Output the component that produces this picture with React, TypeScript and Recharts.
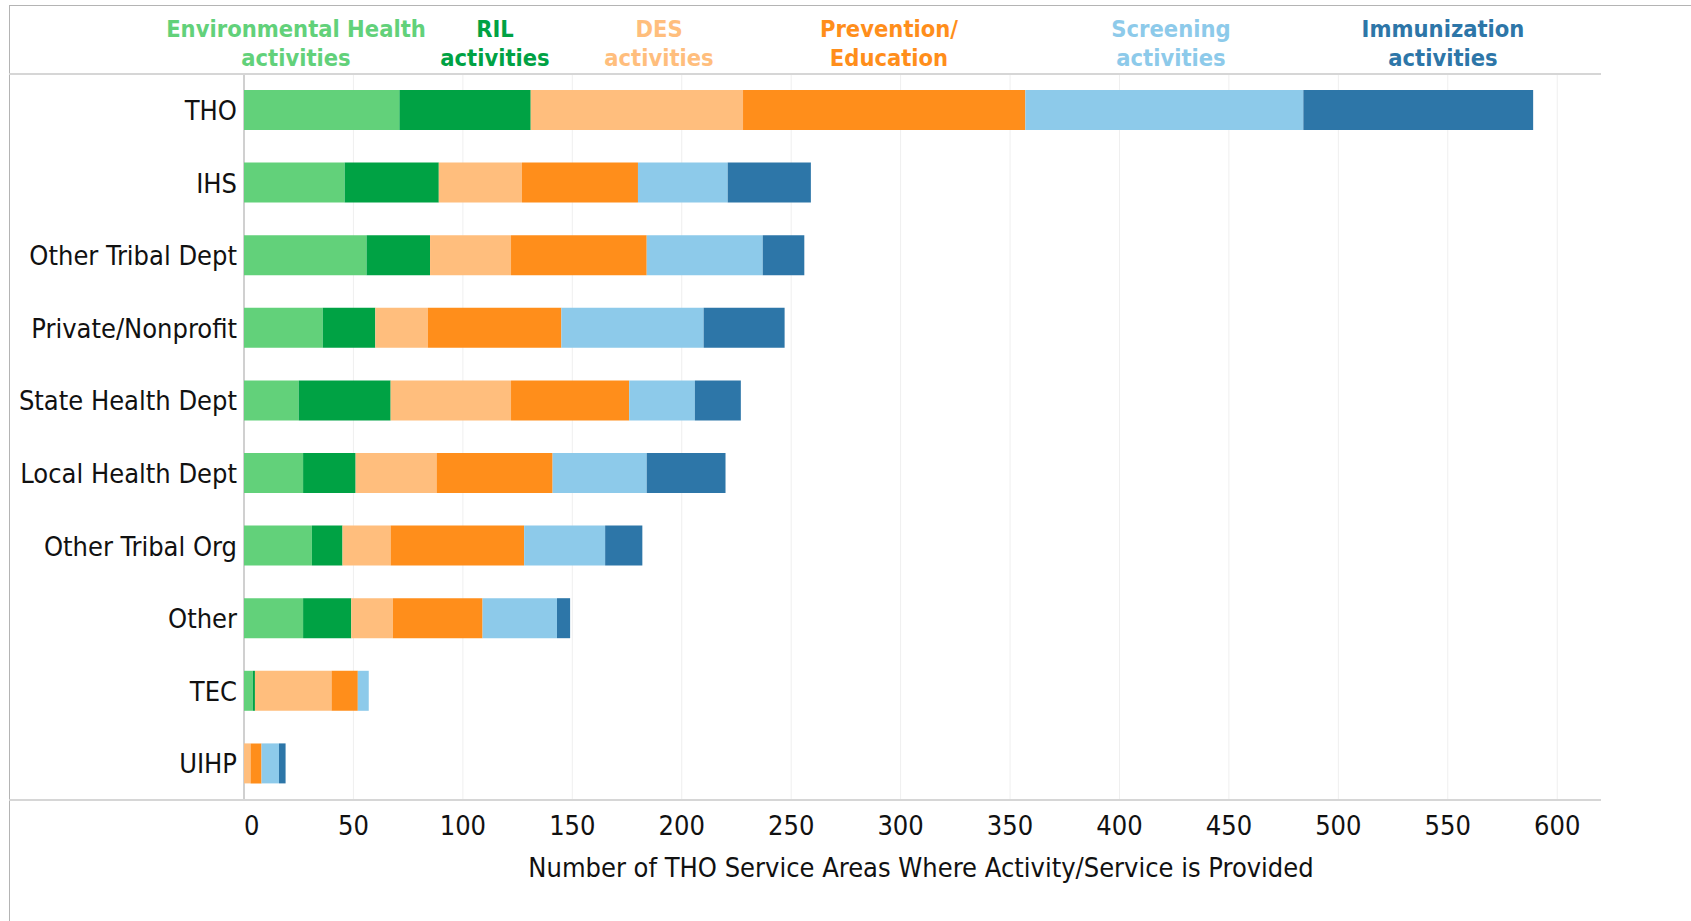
import React from "react";
import {
  BarChart,
  Bar,
  XAxis,
  YAxis,
  CartesianGrid,
} from "recharts";

const categories = [
  "THO",
  "IHS",
  "Other Tribal Dept",
  "Private/Nonprofit",
  "State Health Dept",
  "Local Health Dept",
  "Other Tribal Org",
  "Other",
  "TEC",
  "UIHP",
];

const envHealth = [71, 46, 56, 36, 25, 27, 31, 27, 4, 0];
const ril = [60, 43, 29, 24, 42, 24, 14, 22, 1, 0];
const des = [97, 38, 37, 24, 55, 37, 22, 19, 35, 3];
const prevention = [129, 53, 62, 61, 54, 53, 61, 41, 12, 5];
const screening = [127, 41, 53, 65, 30, 43, 37, 34, 5, 8];
const immunization = [105, 38, 19, 37, 21, 36, 17, 6, 0, 3];

const xTicks = [0, 50, 100, 150, 200, 250, 300, 350, 400, 450, 500, 550, 600];
const xMax = 620;

const series = [
  { key: "env", lines: ["Environmental Health", "activities"], color: "#62D17A", values: envHealth, cx: 296 },
  { key: "ril", lines: ["RIL", "activities"], color: "#00A244", values: ril, cx: 495 },
  { key: "des", lines: ["DES", "activities"], color: "#FFBE7D", values: des, cx: 659 },
  { key: "prev", lines: ["Prevention/", "Education"], color: "#FF8E1B", values: prevention, cx: 889 },
  { key: "scr", lines: ["Screening", "activities"], color: "#8DCAEA", values: screening, cx: 1171 },
  { key: "imm", lines: ["Immunization", "activities"], color: "#2D76A8", values: immunization, cx: 1443 },
];

const chartData = categories.map((name, i) => {
  const row: Record<string, any> = { name };
  series.forEach((s) => {
    row[s.key] = s.values[i];
  });
  return row;
});

const font = "'DejaVu Sans Condensed', 'DejaVu Sans', sans-serif";

const CategoryTick = ({ x, y, payload }: any) => (
  <text
    x={x - 7}
    y={y}
    dy="0.36em"
    textAnchor="end"
    fontFamily={font}
    fontSize={27}
    style={{ fontStretch: "condensed" }}
    fill="#111"
  >
    {payload.value}
  </text>
);

const ValueTick = ({ x, y, payload }: any) => (
  <text
    x={x}
    y={y + 35}
    textAnchor={payload.value === 0 ? "start" : "middle"}
    fontFamily={font}
    fontSize={27}
    style={{ fontStretch: "condensed" }}
    fill="#111"
  >
    {payload.value}
  </text>
);

// grid lines on the tick values (the zero line gets its own darker grid)
const gridAt = (vals: number[]) => ({ offset }: any) =>
  vals.map((t) => offset.left + (t / xMax) * offset.width);

export default function App() {
  return (
    <div style={{ position: "absolute", left: 0, top: 0, width: 1691, height: 921, background: "#fff" }}>
      <BarChart
        width={1691}
        height={921}
        data={chartData}
        layout="vertical"
        margin={{ top: 74, right: 90, left: 0, bottom: 0 }}
        accessibilityLayer={false}
      >
        <CartesianGrid
          horizontal={false}
          stroke="#efefef"
          verticalCoordinatesGenerator={gridAt(xTicks.filter((t) => t > 0))}
        />
        <CartesianGrid
          horizontal={false}
          stroke="#d0d0d0"
          strokeWidth={2}
          verticalCoordinatesGenerator={gridAt([0])}
        />
        <XAxis
          type="number"
          domain={[0, xMax]}
          ticks={xTicks}
          height={121}
          axisLine={false}
          tickLine={false}
          tickSize={0}
          tickMargin={0}
          tick={<ValueTick />}
          interval={0}
        />
        <YAxis
          type="category"
          dataKey="name"
          width={244}
          axisLine={false}
          tickLine={false}
          tickSize={0}
          tickMargin={0}
          tick={<CategoryTick />}
          interval={0}
        />
        {series.map((s) => (
          <Bar
            key={s.key}
            dataKey={s.key}
            stackId="a"
            fill={s.color}
            barSize={40}
            isAnimationActive={false}
          />
        ))}
      </BarChart>
      <svg
        width={1691}
        height={921}
        style={{ position: "absolute", left: 0, top: 0, pointerEvents: "none" }}
      >
        <line x1={9} y1={5.5} x2={1691} y2={5.5} stroke="#b4b4b4" strokeWidth={1} />
        <line x1={9.5} y1={5} x2={9.5} y2={921} stroke="#b4b4b4" strokeWidth={1} />
        <line x1={9} y1={74} x2={1601} y2={74} stroke="#d6d6d6" strokeWidth={2} />
        <line x1={9} y1={800} x2={1601} y2={800} stroke="#d6d6d6" strokeWidth={2} />
        {series.map((s) => (
          <text
            key={s.key}
            textAnchor="middle"
            fontFamily={font}
            fontSize={23.5}
            fontWeight="bold"
            style={{ fontStretch: "condensed" }}
            fill={s.color}
          >
            <tspan x={s.cx} y={37}>{s.lines[0]}</tspan>
            <tspan x={s.cx} y={66}>{s.lines[1]}</tspan>
          </text>
        ))}
        <text
          x={921}
          y={877}
          textAnchor="middle"
          fontFamily={font}
          fontSize={27}
          style={{ fontStretch: "condensed" }}
          fill="#111"
        >
          Number of THO Service Areas Where Activity/Service is Provided
        </text>
      </svg>
    </div>
  );
}
